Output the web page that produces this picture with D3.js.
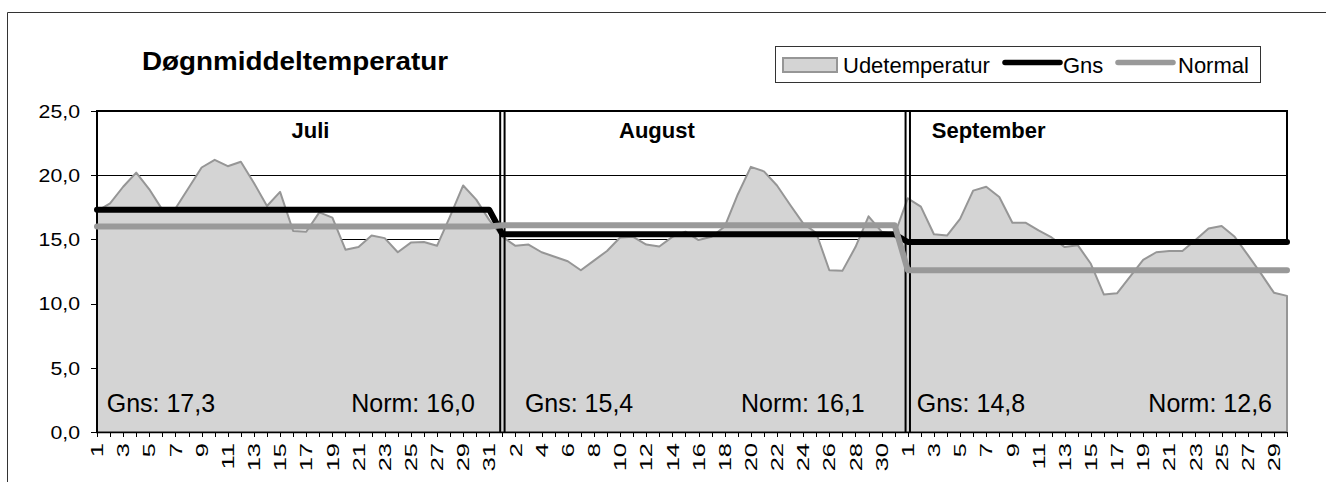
<!DOCTYPE html>
<html><head><meta charset="utf-8">
<script src="https://cdn.jsdelivr.net/npm/d3@7"></script>
<style>body{margin:0;background:#fff}svg{display:block;font-family:"Liberation Sans",Arial,sans-serif}</style>
</head><body><svg id="c" width="1326" height="482"></svg>
<script>
// ---------- data ----------
const chartTitle = "Døgnmiddeltemperatur";
const months = ["Juli", "August", "September"];
const monthLengths = [31, 31, 30];
const udeJul = [17.2,17.8,19.1,20.2,18.9,17.3,17.4,19.0,20.6,21.2,20.7,21.05,19.4,17.6,18.7,15.65,15.6,17.1,16.7,14.2,14.4,15.3,15.1,14.0,14.75,14.8,14.5,16.8,19.2,18.1,16.5];
const udeAug = [15.2,14.5,14.6,14.0,13.65,13.3,12.6,13.35,14.1,15.15,15.2,14.6,14.45,15.2,15.6,14.95,15.2,16.0,18.5,20.65,20.3,19.2,17.7,16.25,15.5,12.6,12.55,14.4,16.8,15.6,15.4];
const udeSep = [18.2,17.55,15.4,15.3,16.6,18.8,19.1,18.3,16.3,16.3,15.7,15.15,14.4,14.55,13.1,10.7,10.8,12.1,13.4,14.0,14.1,14.1,14.95,15.85,16.05,15.2,13.8,12.35,10.85,10.6];
const gnsMonth = [17.3, 15.4, 14.8];
const normMonth = [16.0, 16.1, 12.6];
const gnsLabels = ["Gns: 17,3", "Gns: 15,4", "Gns: 14,8"];
const normLabels = ["Norm: 16,0", "Norm: 16,1", "Norm: 12,6"];
const yTicks = [0, 5, 10, 15, 20, 25];
const legendLabels = ["Udetemperatur", "Gns", "Normal"];

// ---------- layout (not data) ----------
const monthTitleLayout = [{anchor: "middle", dx: 213.5}, {anchor: "middle", dx: 154.5}, {anchor: "start", dx: 24}];
const gnsDx = [9.7, 22.5, 9];
const normDx = [-14.4, -30, -15];

// ---------- build series ----------
const categories = [], monthIdx = [], monthStart = [];
monthLengths.forEach((n, m) => {
  monthStart.push(categories.length);
  for (let d = 1; d <= n; d++) { categories.push(String(d)); monthIdx.push(m); }
});
const ude = udeJul.concat(udeAug, udeSep);
const gns = monthIdx.map(m => gnsMonth[m]);
const norm = monthIdx.map(m => normMonth[m]);
const idx = d3.range(categories.length);

const svg = d3.select("#c");
const x = d3.scaleLinear().domain([0, categories.length - 1]).range([97, 1287]);
const y = d3.scaleLinear().domain([0, 25]).range([432, 111]);
const fmt = v => d3.format(".1f")(v).replace(".", ",");

svg.append("rect").attr("width", 1326).attr("height", 482).attr("fill", "#fff");
// outer chart border
svg.append("path").attr("d", "M7.5,482V12.5H1326").attr("fill", "none").attr("stroke", "#333").attr("stroke-width", 1);

// title
svg.append("text").attr("x", 142).attr("y", 70).attr("font-size", 26).attr("font-weight", "bold")
  .attr("textLength", 306).attr("lengthAdjust", "spacingAndGlyphs").text(chartTitle);

// gridlines
svg.append("g").selectAll("line").data(yTicks.filter(t => t > 0 && t < 25)).join("line")
  .attr("x1", x(0)).attr("x2", x(categories.length - 1))
  .attr("y1", d => Math.round(y(d)) + 0.5).attr("y2", d => Math.round(y(d)) + 0.5)
  .attr("stroke", "#000").attr("stroke-width", 1);

// area
const area = d3.area().x(i => x(i)).y0(y(0)).y1(i => y(ude[i]));
svg.append("path").datum(idx).attr("d", area).attr("fill", "#d4d4d4")
  .attr("stroke", "#969696").attr("stroke-width", 2).attr("stroke-linejoin", "round");

// plot frame / month boxes
const frame = svg.append("g").attr("stroke", "#000").attr("stroke-width", 2).attr("fill", "none");
frame.append("line").attr("x1", x(0) - 1).attr("x2", x(categories.length - 1) + 1).attr("y1", y(25)).attr("y2", y(25));
frame.append("line").attr("x1", x(0)).attr("x2", x(0)).attr("y1", y(25)).attr("y2", y(0));
frame.append("line").attr("x1", x(categories.length - 1)).attr("x2", x(categories.length - 1)).attr("y1", y(25)).attr("y2", y(gnsMonth[2]));
monthStart.slice(1).forEach(s => {
  [-2.2, 2.2].forEach(o => {
    frame.append("line").attr("x1", x(s) + o).attr("x2", x(s) + o).attr("y1", y(25)).attr("y2", y(0));
  });
});

// x axis
const xa = svg.append("g");
xa.append("line").attr("x1", x(0) - 1).attr("x2", x(categories.length - 1)).attr("y1", y(0) + 0.5).attr("y2", y(0) + 0.5)
  .attr("stroke", "#000").attr("stroke-width", 1.5);
xa.selectAll("line.t").data(idx).join("line").attr("class", "t")
  .attr("x1", i => Math.round(x(i)) + 0.5).attr("x2", i => Math.round(x(i)) + 0.5)
  .attr("y1", y(0)).attr("y2", y(0) + 5).attr("stroke", "#000").attr("stroke-width", 1);
xa.selectAll("text").data(idx.filter(i => i % 2 === 0)).join("text")
  .attr("transform", i => `translate(${x(i)},${y(0) + 11}) rotate(-90) scale(1.5,1)`)
  .attr("text-anchor", "end").attr("dy", "0.36em").attr("font-size", 17).text(i => categories[i]);

// y axis
const ya = svg.append("g");
ya.selectAll("line").data(yTicks).join("line")
  .attr("x1", x(0) - 6).attr("x2", x(0)).attr("y1", d => Math.round(y(d)) + 0.5).attr("y2", d => Math.round(y(d)) + 0.5)
  .attr("stroke", "#000").attr("stroke-width", 1);
ya.selectAll("text").data(yTicks).join("text")
  .attr("transform", d => `translate(80,${y(d)}) scale(1.12,1)`)
  .attr("text-anchor", "end").attr("dy", "0.36em").attr("font-size", 19).text(fmt);

// lines
const line = arr => d3.line().x(i => x(i)).y(i => y(arr[i]));
svg.append("path").datum(idx).attr("d", line(gns)).attr("fill", "none").attr("stroke", "#000")
  .attr("stroke-width", 6).attr("stroke-linejoin", "round").attr("stroke-linecap", "round");
svg.append("path").datum(idx).attr("d", line(norm)).attr("fill", "none").attr("stroke", "#999")
  .attr("stroke-width", 6).attr("stroke-linejoin", "round").attr("stroke-linecap", "round");

// month titles and stats
months.forEach((m, k) => {
  const s = monthStart[k], e = s + monthLengths[k] - 1;
  svg.append("text").attr("x", x(s) + monthTitleLayout[k].dx).attr("y", 138)
    .attr("text-anchor", monthTitleLayout[k].anchor).attr("font-size", 22).attr("font-weight", "bold").text(m);
  svg.append("text").attr("x", x(s) + gnsDx[k]).attr("y", 412).attr("font-size", 25).text(gnsLabels[k]);
  svg.append("text").attr("x", x(e) + normDx[k]).attr("y", 412).attr("text-anchor", "end").attr("font-size", 25).text(normLabels[k]);
});

// legend
const lg = svg.append("g");
lg.append("rect").attr("x", 775.5).attr("y", 46.5).attr("width", 485).attr("height", 36).attr("fill", "#fff").attr("stroke", "#333");
lg.append("rect").attr("x", 783).attr("y", 58).attr("width", 54).attr("height", 14).attr("fill", "#d4d4d4").attr("stroke", "#969696").attr("stroke-width", 2);
lg.append("text").attr("x", 843).attr("y", 72.5).attr("font-size", 22).text(legendLabels[0]);
lg.append("line").attr("x1", 1005).attr("x2", 1060).attr("y1", 62.5).attr("y2", 62.5).attr("stroke", "#000").attr("stroke-width", 5.5).attr("stroke-linecap", "round");
lg.append("text").attr("x", 1063).attr("y", 72.5).attr("font-size", 22).text(legendLabels[1]);
lg.append("line").attr("x1", 1118).attr("x2", 1173).attr("y1", 62.5).attr("y2", 62.5).attr("stroke", "#999").attr("stroke-width", 5.5).attr("stroke-linecap", "round");
lg.append("text").attr("x", 1178).attr("y", 72.5).attr("font-size", 22).text(legendLabels[2]);
</script></body></html>
